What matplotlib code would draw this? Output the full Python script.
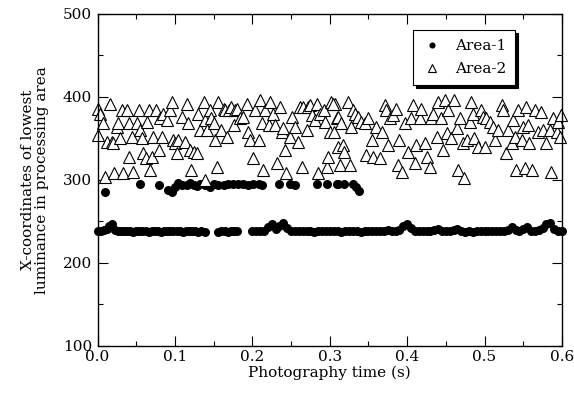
import matplotlib
matplotlib.use('Agg')
import matplotlib.pyplot as plt
from matplotlib.ticker import MultipleLocator

plt.rcParams['font.family'] = ['DejaVu Serif']

# Area-1, lower band (~238)
area1_low_x = [0.000, 0.004, 0.008, 0.012, 0.015, 0.018, 0.022, 0.026, 0.030, 0.034,
               0.038, 0.042, 0.046, 0.050, 0.054, 0.058, 0.062, 0.066, 0.070, 0.074,
               0.078, 0.082, 0.086, 0.090, 0.094, 0.098, 0.102, 0.106, 0.110, 0.114,
               0.118, 0.122, 0.126, 0.130, 0.134, 0.139,
               0.156, 0.160, 0.164, 0.168, 0.172, 0.176, 0.180,
               0.200, 0.205, 0.210, 0.215, 0.220, 0.225, 0.230, 0.235, 0.240, 0.245,
               0.250, 0.255, 0.260, 0.265, 0.270, 0.275, 0.280, 0.285, 0.290, 0.295,
               0.300, 0.305, 0.310, 0.315, 0.320, 0.325, 0.330, 0.335, 0.340, 0.345,
               0.350, 0.355, 0.360, 0.365, 0.370, 0.375, 0.380, 0.385, 0.390, 0.395,
               0.400, 0.405, 0.410, 0.415, 0.420, 0.425, 0.430, 0.435, 0.440, 0.445,
               0.450, 0.455, 0.460, 0.465, 0.470, 0.475, 0.480, 0.485, 0.490, 0.495,
               0.500, 0.505, 0.510, 0.515, 0.520, 0.525, 0.530, 0.535, 0.540, 0.545,
               0.550, 0.555, 0.560, 0.565, 0.570, 0.575, 0.580, 0.585, 0.590, 0.595,
               0.600]
area1_low_y = [238, 239, 240, 241, 244, 247, 240, 238, 238, 239,
               238, 238, 237, 238, 238, 239, 238, 237, 238, 238,
               238, 237, 238, 238, 239, 238, 238, 238, 237, 238,
               238, 239, 238, 237, 238, 237,
               237, 238, 238, 237, 238, 239, 238,
               238, 238, 239, 238, 243, 247, 241, 244, 248, 242,
               239, 238, 238, 239, 238, 238, 237, 238, 238, 239,
               238, 238, 238, 237, 238, 238, 239, 238, 237, 238,
               238, 239, 238, 238, 238, 240, 238, 239, 240, 244,
               247, 242, 239, 238, 238, 239, 238, 240, 241, 239,
               238, 238, 240, 241, 238, 237, 238, 237, 238, 238,
               238, 239, 238, 238, 239, 238, 240, 243, 240, 238,
               241, 243, 239, 238, 240, 242, 247, 248, 241, 239,
               238]

# Area-1, upper cluster (~295)
area1_up_x = [0.010, 0.055, 0.079, 0.091, 0.096, 0.100, 0.104, 0.109, 0.115, 0.120,
              0.124, 0.128, 0.132, 0.139, 0.145, 0.150, 0.156, 0.163, 0.169, 0.175,
              0.182, 0.188, 0.195, 0.201, 0.208, 0.212, 0.234, 0.249, 0.255, 0.283,
              0.296, 0.309, 0.311, 0.319, 0.330, 0.334, 0.338]
area1_up_y = [286, 295, 294, 288, 286, 292, 296, 294, 294, 296,
              294, 293, 295, 294, 292, 295, 294, 294, 295, 295,
              295, 295, 294, 295, 295, 294, 295, 295, 294, 295,
              295, 295, 295, 295, 295, 292, 287]

# Area-2
area2_x = [0.000, 0.001, 0.003, 0.007, 0.010, 0.012, 0.016, 0.018, 0.020, 0.021,
           0.025, 0.027, 0.029, 0.031, 0.033, 0.038, 0.040, 0.041, 0.044, 0.046,
           0.051, 0.053, 0.055, 0.057, 0.059, 0.063, 0.064, 0.066, 0.068, 0.070,
           0.072, 0.076, 0.079, 0.081, 0.083, 0.085, 0.090, 0.094, 0.096, 0.098,
           0.100, 0.102, 0.104, 0.109, 0.113, 0.115, 0.117, 0.120, 0.121, 0.124,
           0.128, 0.130, 0.132, 0.137, 0.139, 0.141, 0.139, 0.145, 0.147, 0.150,
           0.152, 0.154, 0.156, 0.160, 0.163, 0.165, 0.167, 0.170, 0.173, 0.176,
           0.178, 0.180, 0.184, 0.188, 0.193, 0.195, 0.197, 0.201, 0.203, 0.208,
           0.210, 0.212, 0.214, 0.216, 0.221, 0.223, 0.227, 0.229, 0.232, 0.236,
           0.238, 0.240, 0.242, 0.244, 0.249, 0.251, 0.255, 0.259, 0.262, 0.264,
           0.266, 0.270, 0.272, 0.274, 0.277, 0.281, 0.283, 0.285, 0.287, 0.292,
           0.294, 0.296, 0.298, 0.300, 0.302, 0.307, 0.309, 0.310,
           0.304, 0.306, 0.311, 0.313, 0.315, 0.317, 0.319, 0.324, 0.326, 0.328,
           0.330, 0.332, 0.337, 0.341, 0.345, 0.347, 0.350, 0.354, 0.356, 0.360,
           0.365, 0.367, 0.371, 0.373, 0.375, 0.378, 0.382, 0.386, 0.388, 0.390,
           0.393, 0.397, 0.401, 0.405, 0.408, 0.410, 0.412, 0.416, 0.418, 0.423,
           0.425, 0.429, 0.431, 0.433, 0.438, 0.440, 0.444, 0.446, 0.449, 0.451,
           0.453, 0.457, 0.461, 0.464, 0.466, 0.468, 0.472, 0.474, 0.477, 0.481,
           0.483, 0.485, 0.487, 0.492, 0.496, 0.498, 0.500, 0.502, 0.507, 0.511,
           0.513, 0.517, 0.522, 0.524, 0.528, 0.530, 0.535, 0.537, 0.539, 0.541,
           0.543, 0.548, 0.550, 0.552, 0.554, 0.556, 0.558, 0.561, 0.565, 0.569,
           0.573, 0.576, 0.580, 0.584, 0.586, 0.589, 0.593, 0.595, 0.597, 0.599]
area2_y = [354, 386, 380, 368, 304, 346, 392, 346, 344, 308,
           364, 368, 350, 384, 308, 384, 328, 368, 352, 310,
           368, 384, 360, 350, 332, 326, 370, 384, 312, 328,
           352, 384, 336, 374, 352, 380, 372, 384, 394, 348,
           344, 332, 348, 376, 346, 392, 368, 336, 312, 334,
           332, 380, 360, 394, 372, 360, 300, 384, 374, 368,
           348, 316, 394, 360, 386, 384, 352, 384, 388, 366,
           384, 386, 374, 376, 392, 358, 348, 326, 384, 348,
           396, 368, 312, 384, 366, 394, 380, 366, 320, 388,
           358, 362, 336, 308, 352, 376, 364, 346, 388, 316,
           388, 360, 388, 390, 378, 372, 392, 308, 380, 384,
           370, 316, 328, 358, 394, 392, 374, 340,
           392, 358, 376, 318, 368, 342, 334, 394, 318, 364,
           384, 380, 376, 370, 368, 330, 374, 348, 328, 364,
           326, 358, 390, 384, 342, 374, 378, 386, 318, 348,
           310, 368, 334, 374, 390, 320, 342, 374, 386, 344,
           328, 316, 374, 380, 352, 394, 374, 336, 396, 356,
           384, 350, 396, 362, 312, 374, 344, 302, 348, 370,
           394, 380, 350, 340, 384, 376, 340, 374, 370, 364,
           348, 360, 390, 384, 332, 360, 344, 372, 352, 312,
           384, 348, 364, 314, 388, 366, 344, 312, 384, 358,
           382, 360, 344, 360, 310, 374, 358, 370, 352, 378]

fig = plt.figure(figsize=(5.74, 3.98), dpi=100)
ax = fig.add_axes([0.170, 0.131, 0.809, 0.834])

ax.plot(area1_low_x + area1_up_x, area1_low_y + area1_up_y, 'o', color='black',
        ms=6.5, mew=0, label='Area-1', clip_on=False)
ax.plot(area2_x, area2_y, '^', mfc='white', mec='black', ms=8.5, mew=0.8,
        label='Area-2', clip_on=False)

ax.set_xlim(0, 0.6)
ax.set_ylim(100, 500)
ax.xaxis.set_major_locator(MultipleLocator(0.1))
ax.xaxis.set_minor_locator(MultipleLocator(0.05))
ax.yaxis.set_major_locator(MultipleLocator(100))
ax.yaxis.set_minor_locator(MultipleLocator(50))
ax.xaxis.set_major_formatter(plt.FuncFormatter(lambda v, p: f'{v:.1f}'))
ax.tick_params(which='both', direction='in', top=True, right=True, width=0.8,
               labelsize=11)
ax.tick_params(axis='x', pad=3)
ax.tick_params(axis='y', pad=4)
ax.tick_params(which='major', length=7)
ax.tick_params(which='minor', length=3.5)
for s in ax.spines.values():
    s.set_linewidth(1.0)

ax.set_xlabel('Photography time (s)', fontsize=11, labelpad=1)
ax.set_ylabel('X-coordinates of lowest\nluminance in processing area',
              fontsize=11, labelpad=10, linespacing=0.95)

leg = ax.legend(loc='upper right', bbox_to_anchor=(0.899, 0.952), fontsize=11,
                fancybox=False, framealpha=1, edgecolor='black',
                shadow={'color': 'black', 'alpha': 1}, handletextpad=0.9,
                borderpad=0.6, labelspacing=0.6, handlelength=1.2,
                markerscale=0.68, borderaxespad=0)
leg.get_frame().set_linewidth(0.8)

fig.savefig('out.png', dpi=100)
